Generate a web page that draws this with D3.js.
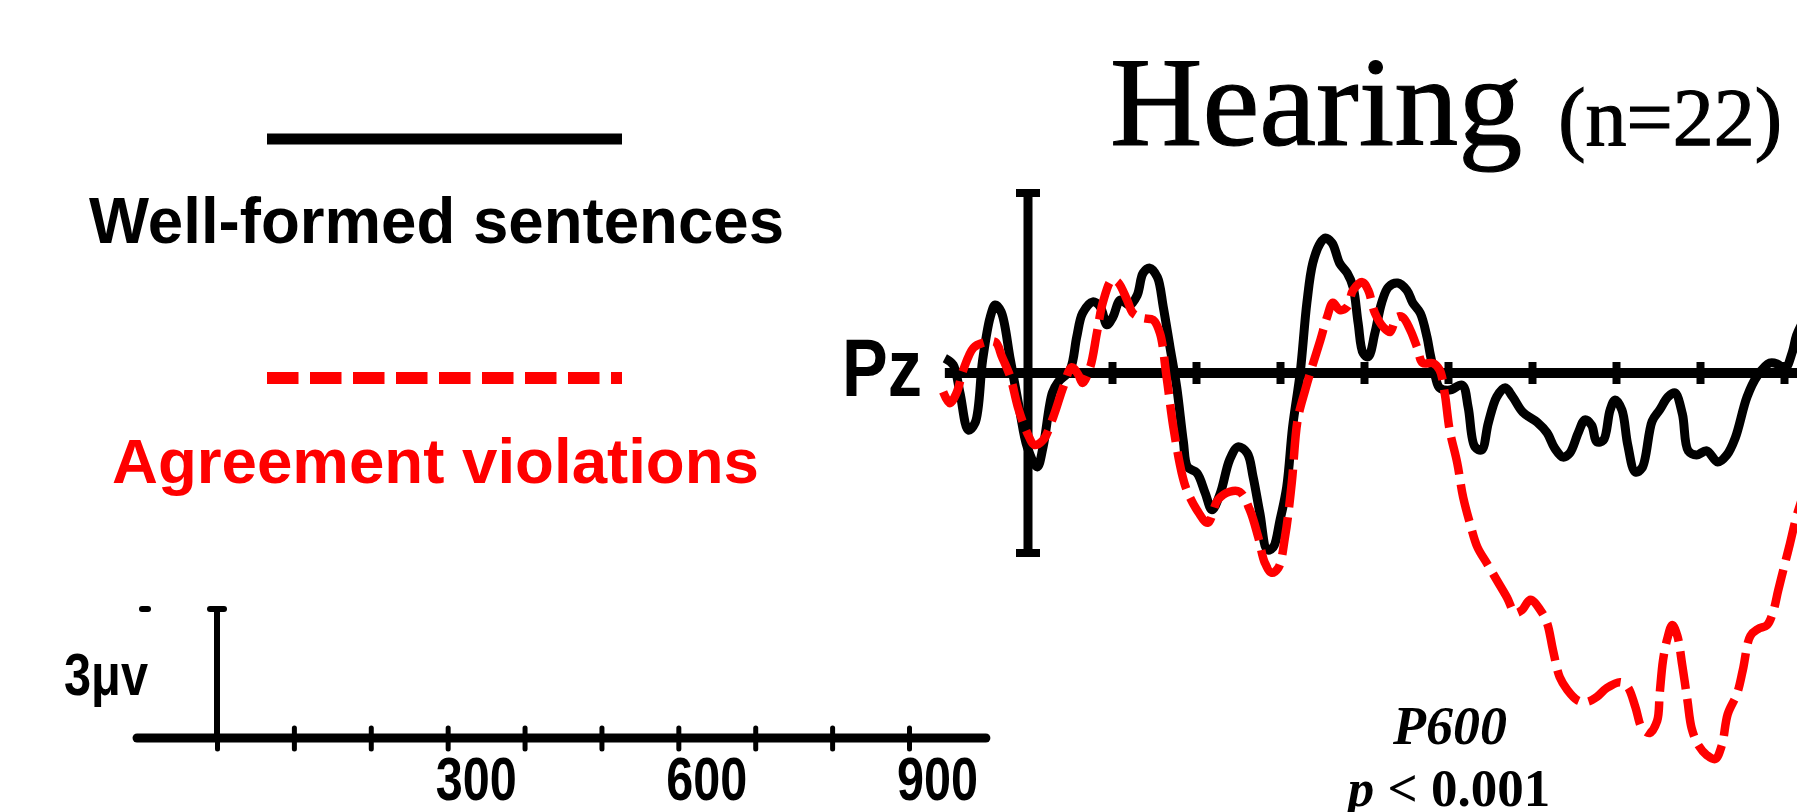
<!DOCTYPE html>
<html>
<head>
<meta charset="utf-8">
<script src="https://cdn.jsdelivr.net/npm/d3@7"></script>
<style>
  body { margin: 0; background: #fff; }
  svg { display: block; }
  .sans { font-family: "Liberation Sans", Arial, sans-serif; font-weight: bold; }
  .serif { font-family: "Liberation Serif", "Times New Roman", serif; }
</style>
</head>
<body>
<svg width="1797" height="812"></svg>
<script>
// ERP at Pz, hearing group. time in ms, amplitude in microvolts (positive plotted down)
const wellFormedT = [-99,-89,-81,-71,-63,-54,-45,-39,-32,-21,-10,-1,11,18,29,36,50,58,65,77,86,94,101,110,121,130,137,145,154,161,169,177,185,190,201,211,219,229,240,250,261,268,276,285,292,300,308,315,324,332,339,348,354,362,371,380,387,393,399,405,413,421,429,440,451,458,467,475,479,485,490,502,517,524,532,540,548,558,568,577,589,606,618,627,637,645,655,663,671,677,685,693,699,707,714,723,731,743,752,762,770,779,786,796,808,821,832,842,856,868,883,892,901,910,915,925]
const wellFormedUv = [-0.33,-0.18,0.44,1.27,1.11,-0.29,-1.24,-1.51,-1.36,-0.29,0.82,1.64,2.09,1.64,0.44,0.20,-0.07,-0.80,-1.33,-1.58,-1.47,-1.07,-1.24,-1.62,-1.51,-1.73,-2.22,-2.33,-2.13,-1.47,-0.58,0.31,1.53,2.09,2.22,2.67,3.04,2.67,1.93,1.64,1.78,2.31,3.11,3.93,3.87,3.27,2.53,1.20,0.00,-1.56,-2.44,-2.89,-3.00,-2.89,-2.44,-2.22,-1.91,-1.11,-0.44,-0.36,-0.89,-1.56,-1.91,-2.00,-1.84,-1.56,-1.33,-0.80,-0.40,0.09,0.33,0.38,0.27,0.76,1.64,1.71,1.11,0.53,0.33,0.53,0.87,1.09,1.33,1.67,1.87,1.78,1.33,1.04,1.16,1.53,1.49,0.82,0.60,0.82,1.60,2.20,2.11,1.07,0.82,0.53,0.44,0.91,1.73,1.82,1.73,1.98,1.82,1.44,0.53,0.07,-0.22,-0.20,-0.09,-0.47,-0.84,-1.22]

const violationT = [-101,-93,-85,-77,-65,-54,-39,-31,-21,-12,-1,8,18,30,42,52,60,65,74,82,89,100,107,118,125,137,149,157,165,173,183,189,201,214,226,240,252,264,274,282,290,298,306,314,321,330,338,348,356,363,371,380,387,398,405,413,423,431,439,446,455,463,470,482,490,496,502,511,518,526,535,546,558,570,580,588,598,610,618,625,633,642,654,665,677,689,705,714,723,731,740,749,752,756,761,767,773,779,785,790,798,808,818,826,833,844,851,860,869,880,887,893,901,907,915,925]
const violationUv = [0.42,0.67,0.44,-0.07,-0.56,-0.67,-0.69,-0.36,0.09,0.76,1.33,1.60,1.49,0.98,0.31,-0.13,0.04,0.22,-0.13,-0.89,-1.56,-2.07,-2.02,-1.62,-1.33,-1.22,-1.18,-0.89,0.09,1.20,2.22,2.60,3.04,3.33,2.82,2.64,2.64,3.04,3.64,4.22,4.44,4.33,3.64,2.44,1.04,0.38,-0.13,-0.73,-1.24,-1.56,-1.40,-1.47,-1.84,-2.02,-1.84,-1.33,-1.02,-0.91,-1.24,-1.24,-0.96,-0.58,-0.22,-0.22,-0.07,0.44,1.27,2.00,2.76,3.33,3.87,4.22,4.60,4.98,5.33,5.27,5.04,5.27,5.56,6.16,6.76,7.04,7.27,7.31,7.20,7.00,6.87,6.98,7.42,7.89,8.00,7.73,7.13,6.38,5.91,5.60,5.84,6.51,7.27,7.89,8.27,8.49,8.58,8.27,7.58,7.13,6.60,5.84,5.69,5.60,5.31,4.84,4.24,3.80,3.18,2.60]

const mainTicks = [100,200,300,400,500,600,700,800,900]
const scaleTicks = [0,100,200,300,400,500,600,700,800,900]
const scaleLabels = [300,600,900]
const scaleBarUv = 3

const svg = d3.select('svg')
const red = '#ff0000'

// ---- main plot scales
const x = d3.scaleLinear().domain([0, 900]).range([1028, 1784])
const y = d3.scaleLinear().domain([-4, 4]).range([193, 553])

const plot = svg.append('g')

// zero line + ticks
plot.append('line')
  .attr('x1', x(-99)).attr('x2', 1797)
  .attr('y1', y(0)).attr('y2', y(0))
  .attr('stroke', '#000').attr('stroke-width', 10)

const xAxisG = plot.append('g')
  .attr('transform', `translate(0,${y(0)})`)
  .call(d3.axisBottom(x).tickValues(mainTicks).tickFormat(''))
xAxisG.select('.domain').remove()
xAxisG.selectAll('.tick line')
  .attr('y1', -11).attr('y2', 11)
  .attr('stroke', '#000').attr('stroke-width', 8)

// vertical bar with caps
plot.append('line')
  .attr('x1', x(0)).attr('x2', x(0))
  .attr('y1', y(-4)).attr('y2', y(4))
  .attr('stroke', '#000').attr('stroke-width', 9)
plot.selectAll('.cap').data([-4, 4]).enter().append('line')
  .attr('class', 'cap')
  .attr('x1', x(0) - 12).attr('x2', x(0) + 12)
  .attr('y1', d => y(d)).attr('y2', d => y(d))
  .attr('stroke', '#000').attr('stroke-width', 8)

const line = d3.line()
  .x(d => x(d[0]))
  .y(d => y(d[1]))
  .curve(d3.curveCatmullRom.alpha(0.5))

plot.append('path')
  .datum(d3.zip(wellFormedT, wellFormedUv))
  .attr('d', line)
  .attr('fill', 'none')
  .attr('stroke', '#000')
  .attr('stroke-width', 9)
  .attr('stroke-linejoin', 'round')

plot.append('path')
  .datum(d3.zip(violationT, violationUv))
  .attr('d', line)
  .attr('fill', 'none')
  .attr('stroke', red)
  .attr('stroke-width', 8.5)
  .attr('stroke-dasharray', '38,10')

plot.append('text')
  .attr('class', 'sans')
  .attr('x', 842).attr('y', 396)
  .attr('font-size', 82)
  .attr('textLength', 80).attr('lengthAdjust', 'spacingAndGlyphs')
  .text('Pz')

// ---- title
const title = svg.append('text')
  .attr('class', 'serif')
  .attr('x', 1110).attr('y', 145)
  .attr('stroke', '#000').attr('stroke-width', 1.2)
title.append('tspan').attr('font-size', 128).text('Hearing')
title.append('tspan').attr('font-size', 82).attr('dx', 36).text('(n=22)')

// ---- P600 annotation
svg.append('text')
  .attr('class', 'serif')
  .attr('x', 1450).attr('y', 744)
  .attr('text-anchor', 'middle')
  .attr('font-size', 54).attr('font-weight', 'bold').attr('font-style', 'italic')
  .text('P600')

const pText = svg.append('text')
  .attr('class', 'serif')
  .attr('x', 1449).attr('y', 806)
  .attr('text-anchor', 'middle')
  .attr('font-size', 53).attr('font-weight', 'bold')
pText.append('tspan').attr('font-style', 'italic').text('p')
pText.append('tspan').text(' < 0.001')

// ---- legend
const legend = svg.append('g')
legend.append('line')
  .attr('x1', 267).attr('x2', 622).attr('y1', 139).attr('y2', 139)
  .attr('stroke', '#000').attr('stroke-width', 11)
legend.append('text')
  .attr('class', 'sans')
  .attr('x', 89).attr('y', 243)
  .attr('font-size', 65)
  .attr('textLength', 695).attr('lengthAdjust', 'spacingAndGlyphs')
  .text('Well-formed sentences')
legend.append('line')
  .attr('x1', 267).attr('x2', 622).attr('y1', 378).attr('y2', 378)
  .attr('stroke', red).attr('stroke-width', 12)
  .attr('stroke-dasharray', '31.5,11.5')
legend.append('text')
  .attr('class', 'sans')
  .attr('x', 112).attr('y', 483)
  .attr('font-size', 63)
  .attr('fill', red)
  .attr('textLength', 647).attr('lengthAdjust', 'spacingAndGlyphs')
  .text('Agreement violations')

// ---- calibration scale (bottom left)
const sx = d3.scaleLinear().domain([0, 900]).range([217, 909])
const sy = d3.scaleLinear().domain([0, scaleBarUv]).range([738, 609])
const cal = svg.append('g')

cal.append('line')
  .attr('x1', sx(-104)).attr('x2', sx(1000))
  .attr('y1', sy(0)).attr('y2', sy(0))
  .attr('stroke', '#000').attr('stroke-width', 9)
  .attr('stroke-linecap', 'round')

const calAxis = cal.append('g')
  .attr('transform', `translate(0,${sy(0)})`)
  .call(d3.axisBottom(sx).tickValues(scaleTicks).tickFormat(''))
calAxis.select('.domain').remove()
calAxis.selectAll('.tick line')
  .attr('y1', -10).attr('y2', 11)
  .attr('stroke', '#000').attr('stroke-width', 5)
  .attr('stroke-linecap', 'round')

cal.append('line')
  .attr('x1', sx(0)).attr('x2', sx(0))
  .attr('y1', sy(0)).attr('y2', sy(scaleBarUv))
  .attr('stroke', '#000').attr('stroke-width', 6)
cal.append('line')
  .attr('x1', sx(0) - 7).attr('x2', sx(0) + 7)
  .attr('y1', sy(scaleBarUv)).attr('y2', sy(scaleBarUv))
  .attr('stroke', '#000').attr('stroke-width', 6)
  .attr('stroke-linecap', 'round')
cal.append('line')
  .attr('x1', 142).attr('x2', 148)
  .attr('y1', sy(scaleBarUv)).attr('y2', sy(scaleBarUv))
  .attr('stroke', '#000').attr('stroke-width', 6)
  .attr('stroke-linecap', 'round')

cal.append('text')
  .attr('class', 'sans')
  .attr('x', 64).attr('y', 695)
  .attr('font-size', 60)
  .attr('textLength', 84).attr('lengthAdjust', 'spacingAndGlyphs')
  .text('3μv')

cal.selectAll('.lbl').data(scaleLabels).enter().append('text')
  .attr('class', 'sans lbl')
  .attr('x', d => sx(d) - 12).attr('y', 800)
  .attr('font-size', 61)
  .attr('textLength', 81).attr('lengthAdjust', 'spacingAndGlyphs')
  .text(d => d)
</script>
</body>
</html>
